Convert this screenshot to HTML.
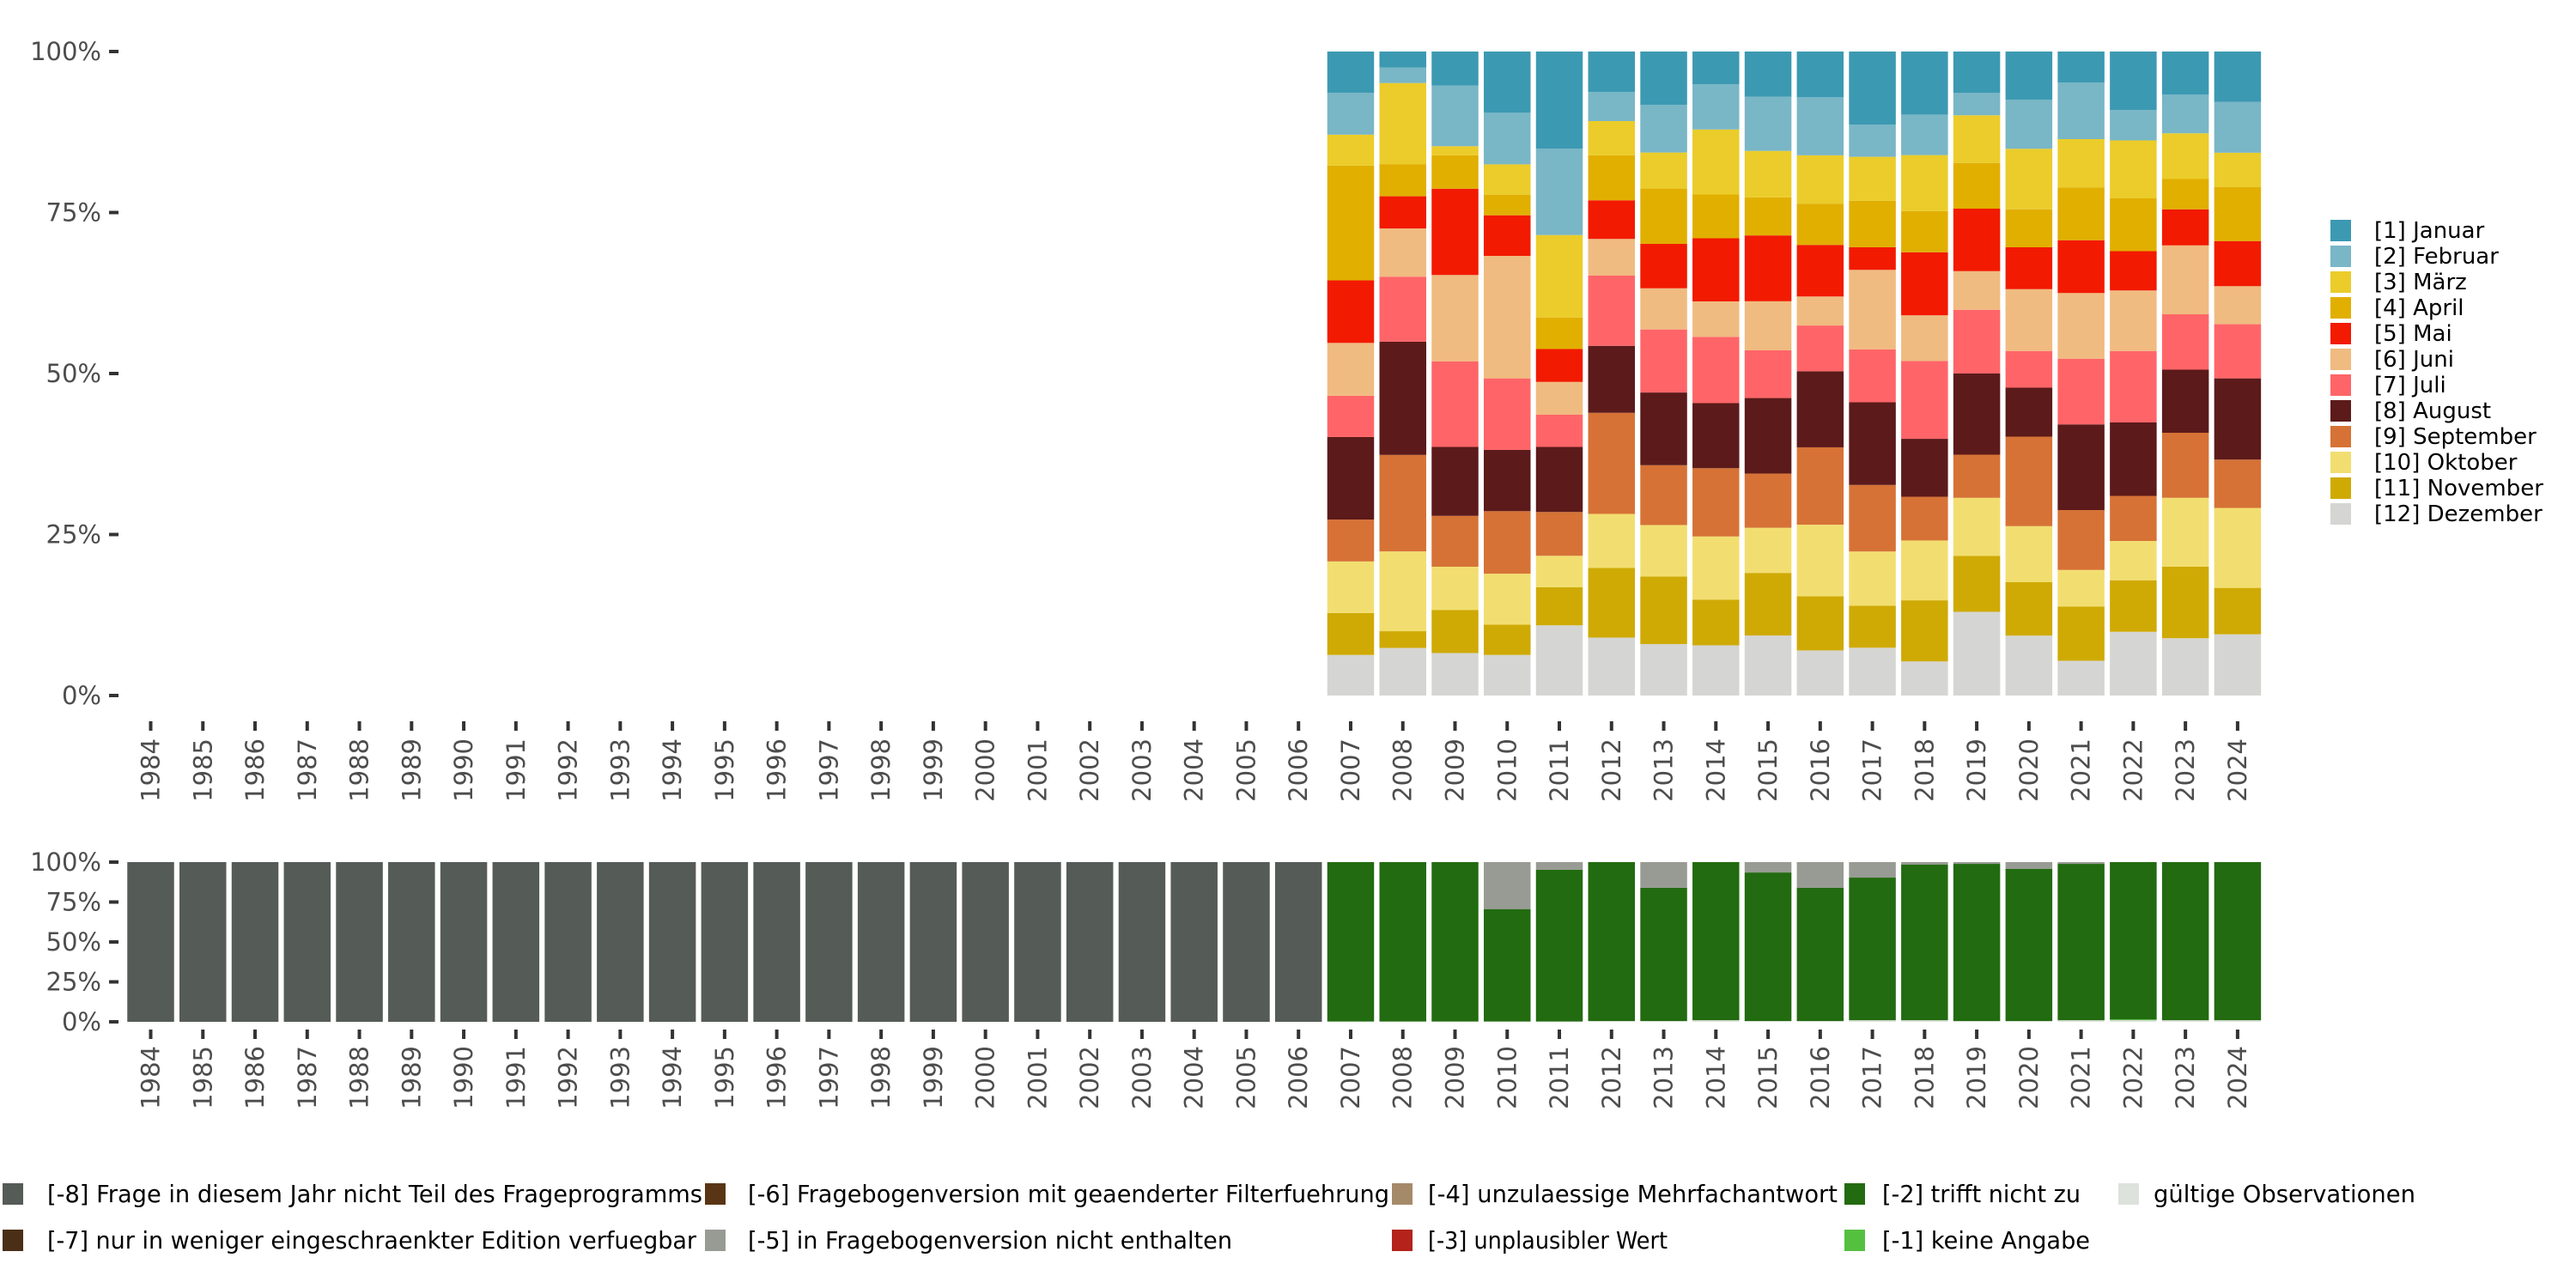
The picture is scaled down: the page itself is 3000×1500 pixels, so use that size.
<!DOCTYPE html>
<html><head><meta charset="utf-8"><style>
html,body{margin:0;padding:0;background:#fff;}
svg{display:block;font-family:"DejaVu Sans","Liberation Sans",sans-serif;}
</style></head><body>
<svg id="c" width="3000" height="1500" viewBox="0 0 3000 1500" xmlns="http://www.w3.org/2000/svg"></svg>
<script>
const years = [];
for (let y = 1984; y <= 2024; y++) years.push(String(y));
const monthNames = ["[1] Januar","[2] Februar","[3] März","[4] April","[5] Mai","[6] Juni","[7] Juli","[8] August","[9] September","[10] Oktober","[11] November","[12] Dezember"];
const monthColors = ["#3c99b2","#79b6c6","#ebcc2a","#e1af00","#f21a00","#f0bb80","#ff6568","#5c1a1a","#d67236","#f2de70","#cfaa05","#d5d5d3"];
const monthYears = ["2007","2008","2009","2010","2011","2012","2013","2014","2015","2016","2017","2018","2019","2020","2021","2022","2023","2024"];
// percent per month, Jan..Dez (stacked Jan on top)
const m2007 = [6.4,6.5,4.8,17.8,9.7,8.2,6.4,12.8,6.5,8.0,6.5,6.3];
const m2008 = [2.5,2.4,12.6,5.0,5.0,7.5,10.1,17.6,15.0,12.4,2.6,7.4];
const m2009 = [5.3,9.4,1.4,5.2,13.4,13.4,13.3,10.7,7.9,6.7,6.7,6.6];
const m2010 = [9.5,8.0,4.7,3.2,6.3,19.0,11.1,9.5,9.7,7.9,4.7,6.3];
const m2011 = [15.1,13.4,12.8,4.9,5.1,5.1,5.0,10.1,6.8,4.9,5.9,10.9];
const m2012 = [6.3,4.5,5.3,7.0,6.0,5.7,10.9,10.4,15.7,8.4,10.8,9.0];
const m2013 = [8.3,7.4,5.6,8.6,6.9,6.4,9.8,11.3,9.3,8.0,10.5,8.0];
const m2014 = [5.1,7.0,10.1,6.8,9.8,5.5,10.3,10.1,10.6,9.8,7.1,7.8];
const m2015 = [7.0,8.4,7.2,5.9,10.2,7.6,7.4,11.7,8.4,7.0,9.7,9.3];
const m2016 = [7.1,9.0,7.5,6.4,8.0,4.5,7.1,11.8,12.0,11.1,8.4,7.0];
const m2017 = [11.3,5.0,6.8,7.2,3.5,12.3,8.2,12.8,10.3,8.4,6.5,7.4];
const m2018 = [9.8,6.3,8.7,6.4,9.8,7.1,12.1,9.0,6.8,9.3,9.5,5.3];
const m2019 = [6.4,3.5,7.4,7.1,9.7,6.0,9.9,12.6,6.7,9.0,8.7,13.0];
const m2020 = [7.5,7.6,9.4,5.9,6.5,9.6,5.7,7.6,13.9,8.7,8.3,9.3];
const m2021 = [4.8,8.8,7.5,8.2,8.2,10.2,10.2,13.3,9.3,5.7,8.4,5.4];
const m2022 = [9.1,4.7,9.0,8.2,6.1,9.4,11.1,11.4,7.0,6.1,8.0,9.9];
const m2023 = [6.7,6.0,7.1,4.7,5.6,10.7,8.6,9.8,10.1,10.7,11.1,8.9];
const m2024 = [7.8,7.9,5.3,8.4,7.0,5.9,8.4,12.6,7.5,12.4,7.2,9.5];
const monthData = [m2007,m2008,m2009,m2010,m2011,m2012,m2013,m2014,m2015,m2016,m2017,m2018,m2019,m2020,m2021,m2022,m2023,m2024];
const topTicks = ["0%","25%","50%","75%","100%"];
const topTickVals = [0,25,50,75,100];

// bottom panel: per-year shares
const sFrage8 = [100,100,100,100,100,100,100,100,100,100,100,100,100,100,100,100,100,100,100,100,100,100,100,0,0,0,0,0,0,0,0,0,0,0,0,0,0,0,0,0,0];
const sNicht5 = [0,0,0,0,0,0,0,0,0,0,0,0,0,0,0,0,0,0,0,0,0,0,0,0,0,0,29.4,4.8,0,16.1,0,6.5,16.1,9.7,1.6,1.1,4.3,1.1,0,0,0];
const sKeine1 = [0,0,0,0,0,0,0,0,0,0,0,0,0,0,0,0,0,0,0,0,0,0,0,0,0,0,0,0,0,0,0,0,0,0,0,0,0,0,0.5,0,0];
const sGueltig = [0,0,0,0,0,0,0,0,0,0,0,0,0,0,0,0,0,0,0,0,0,0,0,0.2,0.2,0.2,0.2,0.2,0.5,0.5,1.0,0.5,0.5,1.0,1.0,0.5,0.5,1.0,1.0,1.0,1.0];
const bottomTicks = ["0%","25%","50%","75%","100%"];

const NS = "http://www.w3.org/2000/svg";
const svg = document.getElementById("c");
function el(tag, attrs, parent) {
  const e = document.createElementNS(NS, tag);
  for (const k in attrs) e.setAttribute(k, attrs[k]);
  (parent || svg).appendChild(e);
  return e;
}
const X0 = 175.5, STEP = 60.76, BW = 54.5, FS = 29;
function xPos(i){ return X0 + i*STEP; }
function yTop(v){ return 810 - v*7.5; }
function yBot(v){ return 1190 - v*1.86; }

// top axis
const gTopAxis = el("g", {});


topTickVals.forEach((v,i)=>{
  const t = el("text",{x:118,y:yTop(v)+10,"text-anchor":"end","font-size":FS,fill:"#4d4d4d"},gTopAxis);
  t.textContent = topTicks[i];
  
  
  el("rect",{x:127,y:yTop(v)-2,width:11,height:4,fill:"#333"},gTopAxis);
});
const gTopBars = el("g", {});


monthYears.forEach((yr,j)=>{
  const i = years.indexOf(yr);
  const d = monthData[j];
  const total = d.reduce((a,b)=>a+b,0);
  let cum = 0;
  for (let k = 11; k >= 0; k--) {
    const v = d[k]/total*100;
    const r = el("rect",{x:xPos(i)-BW/2,y:yTop(cum+v),width:BW,height:v*7.5,fill:monthColors[k]},gTopBars);
    
    
    cum += v;
  }
});
// top x ticks
const gTopX = el("g", {});


years.forEach((yr,i)=>{
  el("rect",{x:xPos(i)-2,y:840,width:4,height:11,fill:"#333"},gTopX);
  const t = el("text",{x:0,y:0,"text-anchor":"end","font-size":FS,fill:"#4d4d4d",transform:`translate(${xPos(i)+10},860) rotate(-90)`},gTopX);
  t.textContent = yr;
  
  
});

// bottom axis
const gBotAxis = el("g", {});


topTickVals.forEach((v,i)=>{
  const t = el("text",{x:118,y:yBot(v)+10,"text-anchor":"end","font-size":FS,fill:"#4d4d4d"},gBotAxis);
  t.textContent = bottomTicks[i];
  
  
  el("rect",{x:127,y:yBot(v)-2,width:11,height:4,fill:"#333"},gBotAxis);
});
const gBotBars = el("g", {});


years.forEach((yr,i)=>{
  if (sFrage8[i] > 0) {
    const r = el("rect",{x:xPos(i)-BW/2,y:yBot(sFrage8[i]),width:BW,height:sFrage8[i]*1.86,fill:"#555b56"},gBotBars);
    
    
    return;
  }
  const g = sGueltig[i], k1 = sKeine1[i], n5 = sNicht5[i];
  const tz = 100 - g - k1 - n5;
  const segs = [[g,"#dde2dc","gueltig"],[k1,"#55c040","keine-angabe"],[tz,"#226b10","trifft-nicht-zu"],[n5,"#989b94","nicht-enthalten"]];
  let cum = 0;
  segs.forEach(s=>{
    if (s[0] <= 0) return;
    const r = el("rect",{x:xPos(i)-BW/2,y:yBot(cum+s[0]),width:BW,height:s[0]*1.86,fill:s[1]},gBotBars);
    
    
    cum += s[0];
  });
});
const gBotX = el("g", {});


years.forEach((yr,i)=>{
  el("rect",{x:xPos(i)-2,y:1199,width:4,height:11,fill:"#333"},gBotX);
  const t = el("text",{x:0,y:0,"text-anchor":"end","font-size":FS,fill:"#4d4d4d",transform:`translate(${xPos(i)+10},1218) rotate(-90)`},gBotX);
  t.textContent = yr;
  
  
});

// right legend
const gLeg = el("g", {});


monthNames.forEach((n,k)=>{
  const y = 256 + k*30;
  el("rect",{x:2714,y:y,width:24,height:25,fill:monthColors[k]},gLeg);
  const t = el("text",{x:2765,y:y+21,"font-size":26,fill:"#000"},gLeg);
  t.textContent = n;
  
  
});

// bottom legend: label, color, keyX, rowY, textStart, textEnd
const botLegend = [
  ["[-8] Frage in diesem Jahr nicht Teil des Frageprogramms","#555b56",3,1390,55,818],
  ["[-7] nur in weniger eingeschraenkter Edition verfuegbar","#4a2e16",3,1444,55,811],
  ["[-6] Fragebogenversion mit geaenderter Filterfuehrung","#5a3515",821,1390,871,1618],
  ["[-5] in Fragebogenversion nicht enthalten","#989b94",821,1444,871,1435],
  ["[-4] unzulaessige Mehrfachantwort","#a58a6a",1621,1390,1663,2140],
  ["[-3] unplausibler Wert","#b3221b",1621,1444,1663,1942],
  ["[-2] trifft nicht zu","#226b10",2148,1390,2192,2423],
  ["[-1] keine Angabe","#55c040",2148,1444,2192,2434],
  ["gültige Observationen","#dde2dc",2467,1390,2508,2813]
];
const gBL = el("g", {});


botLegend.forEach(b=>{
  el("rect",{x:b[2],y:b[3]-12,width:24,height:25,fill:b[1]},gBL);
  const t = el("text",{x:b[4],y:b[3]+10,"font-size":28,fill:"#000",textLength:b[5]-b[4],lengthAdjust:"spacingAndGlyphs"},gBL);
  t.textContent = b[0];
  
  
});
</script>
</body></html>
